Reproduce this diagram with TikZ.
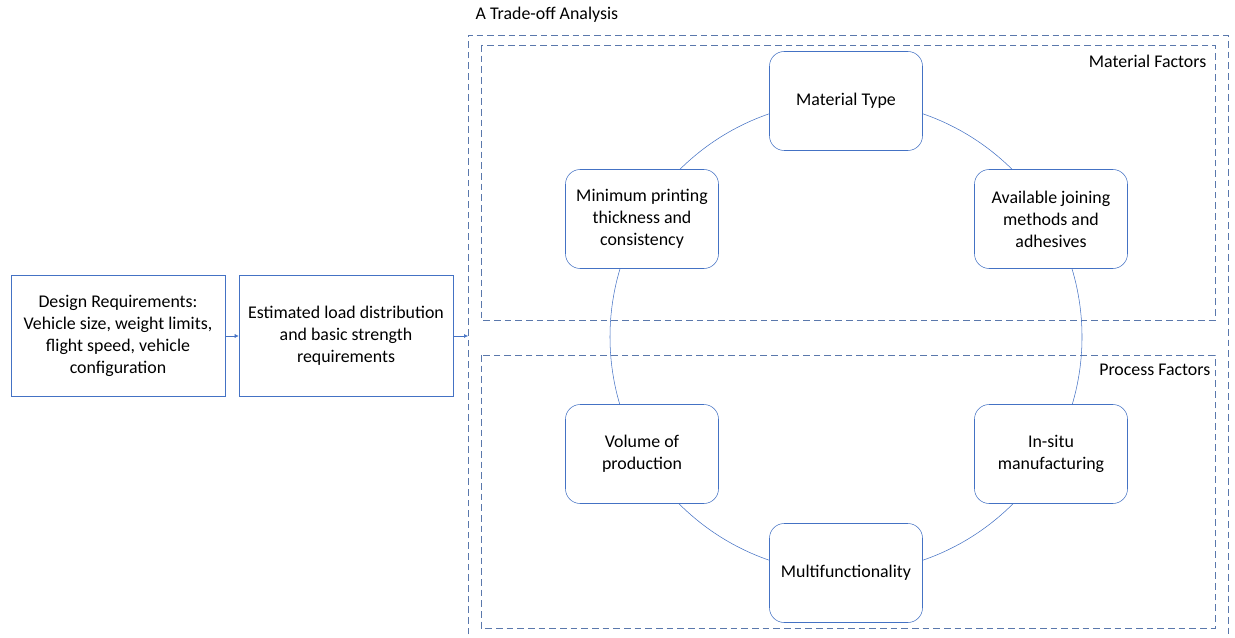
\documentclass[tikz,border=0pt]{standalone}
\usepackage{fontspec}
\setmainfont{Carlito}
\usepackage{xcolor}
\usetikzlibrary{arrows.meta}
\definecolor{boxblue}{HTML}{4472C4}
\definecolor{dashblue}{HTML}{5A78AC}

\begin{document}
\begin{tikzpicture}[x=0.75pt,y=-0.75pt,font=\fontsize{13.4}{16.6}\selectfont,
  reqbox/.style={draw=boxblue,fill=white,minimum width=214*0.75pt,minimum height=121*0.75pt,align=center,inner sep=0pt},
  factor/.style={draw=boxblue,fill=white,rounded corners=11pt,minimum width=153*0.75pt,minimum height=99*0.75pt,align=center,inner sep=0pt},
  region/.style={draw=dashblue,dashed,dash pattern=on 5pt off 3pt}]
\useasboundingbox (0,0) rectangle (1235,638);

% dashed frames
\draw[region] (468,645) -- (468,35) -- (1228,35) -- (1228,645);
\draw[region] (481,45) rectangle (1215,320);
\draw[region] (481,355) rectangle (1215,628);
\node[anchor=west] (title) at (471,15) {A Trade-off Analysis};
\node[anchor=east] (matlab) at (1211,61) {Material Factors};
\node[anchor=east] (proclab) at (1215,370) {Process Factors};

% cycle
\draw[boxblue] (846,337) circle (236*0.75pt);
\node[factor] (mat) at (846,101) {Material Type};
\node[factor] (join) at (1051,219) {Available joining\\methods and\\adhesives};
\node[factor] (insitu) at (1051,454) {In-situ\\manufacturing};
\node[factor] (multi) at (846,573) {Multifunctionality};
\node[factor] (vol) at (642,454) {Volume of\\production};
\node[factor] (mint) at (642,219) {Minimum printing\\thickness and\\consistency};

% requirements
\node[reqbox] (design) at (118,336) {Design Requirements:\\Vehicle size, weight limits,\\flight speed, vehicle\\configuration};
\node[reqbox] (load) at (346,336) {Estimated load distribution\\and basic strength\\requirements};
\coordinate (tradeW) at (468,336);
\draw[boxblue,-{Latex[length=3pt,width=3pt]}] (design) -- (load);
\draw[boxblue,-{Latex[length=3pt,width=3pt]}] (load) -- (tradeW);
\end{tikzpicture}
\end{document}
